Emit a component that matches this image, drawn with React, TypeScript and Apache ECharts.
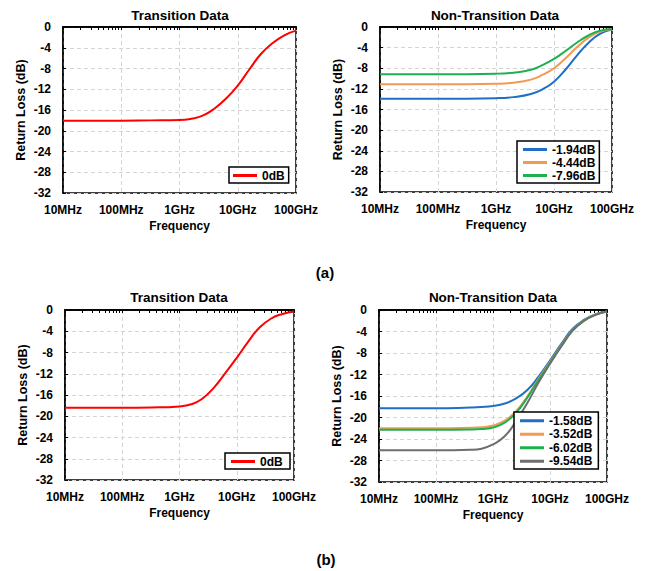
import React, { useEffect, useRef } from "react";
import * as echarts from "echarts";

const FONT = 'Arial, "Liberation Sans", sans-serif';

// x tick labels (decades 1e7..1e11)
const xTickLabels = ["10MHz", "100MHz", "1GHz", "10GHz", "100GHz"];
const yMin = -32;
const yMax = 0;
const yStep = 4;

// (a) Transition data
const freqTL = [1e7, 1e8, 3.2e8, 1e9, 1.6e9, 2.5e9, 4e9, 6.3e9, 1e10, 1.6e10, 2.5e10, 4e10, 6.3e10, 1e11];
const rlTL = [-18.05, -18.05, -18.0, -17.95, -17.7, -17.1, -15.7, -13.8, -11.3, -8.1, -5.2, -3.1, -1.6, -0.7];

// (a) Non-transition data
const freqTR = [1e7, 1e8, 1e9, 2e9, 4e9, 6.3e9, 1e10, 1.6e10, 2.5e10, 4e10, 6.3e10, 1e11];
const rlTR_194 = [-13.9, -13.9, -13.8, -13.6, -13.0, -12.1, -10.6, -8.2, -5.5, -3.0, -1.3, -0.5];
const rlTR_444 = [-11.1, -11.1, -11.0, -10.8, -10.2, -9.3, -8.0, -6.0, -3.9, -2.0, -0.9, -0.45];
const rlTR_796 = [-9.15, -9.15, -9.05, -8.85, -8.3, -7.4, -6.2, -4.6, -3.0, -1.6, -0.7, -0.4];

// (b) Transition data
const freqBL = [1e7, 1e8, 3.2e8, 1e9, 1.6e9, 2.5e9, 4e9, 6.3e9, 1e10, 1.6e10, 2.5e10, 4e10, 6.3e10, 1e11];
const rlBL = [-18.4, -18.4, -18.35, -18.15, -17.75, -16.7, -14.6, -11.9, -9.0, -5.9, -3.3, -1.6, -0.75, -0.3];

// (b) Non-transition data
const freqBR = [1e7, 1e8, 4e8, 6.3e8, 1e9, 1.6e9, 2.5e9, 4e9, 6.3e9, 1e10, 1.6e10, 2.5e10, 4e10, 6.3e10, 1e11];
const rlBR_158 = [-18.3, -18.3, -18.15, -18.05, -17.85, -17.4, -16.5, -14.9, -12.4, -9.4, -6.2, -3.5, -1.8, -0.8, -0.3];
const rlBR_352 = [-22.0, -22.0, -21.9, -21.8, -21.5, -20.6, -18.9, -16.1, -12.8, -9.7, -6.5, -3.7, -1.9, -0.85, -0.3];
const rlBR_602 = [-22.3, -22.3, -22.25, -22.15, -21.85, -20.95, -19.2, -16.3, -13.0, -9.85, -6.6, -3.8, -1.95, -0.9, -0.3];
const rlBR_954 = [-26.1, -26.1, -26.0, -25.8, -25.0, -23.5, -20.8, -17.3, -13.5, -10.0, -6.7, -3.85, -2.0, -0.9, -0.3];

const COLORS = {
  red: "#ff0000",
  blue: "#1f6fc4",
  orange: "#f39a52",
  green: "#1db04f",
  gray: "#6e6e6e",
};

// top-border log tick positions (in log10 units)
const topTicks: number[] = [];
for (let d = 7; d < 11; d++) {
  for (let k = 1; k <= 9; k++) topTicks.push(d + Math.log10(k));
}
topTicks.push(11);

const grids = [
  { left: 63, top: 27, width: 233, height: 166 },
  { left: 380, top: 27, width: 232, height: 165 },
  { left: 65, top: 310, width: 229, height: 170 },
  { left: 379, top: 310, width: 228, height: 172 },
];

const titles = [
  { text: "Transition Data", x: 180, y: 15 },
  { text: "Non-Transition Data", x: 495, y: 15 },
  { text: "Transition Data", x: 179, y: 297 },
  { text: "Non-Transition Data", x: 493, y: 297 },
];

const boldText = (size: number) => ({
  fontFamily: FONT,
  fontWeight: "bold" as const,
  fontSize: size,
  color: "#000",
});

function buildOption() {
  const xAxis: any[] = [];
  const yAxis: any[] = [];
  grids.forEach((_, k) => {
    xAxis.push({
      type: "log",
      logBase: 10,
      gridIndex: k,
      min: 1e7,
      max: 1e11,
      axisLine: { lineStyle: { color: "#000", width: 1.5 } },
      axisTick: { show: false },
      axisLabel: {
        margin: 11,
        ...boldText(12),
        formatter: (v: number) => xTickLabels[Math.round(Math.log10(v)) - 7] ?? "",
      },
      splitLine: { show: true, lineStyle: { color: "#d4d4d4", type: [4, 3], width: 1 } },
      name: "Frequency",
      nameLocation: "middle",
      nameGap: 27,
      nameTextStyle: boldText(12),
    });
    xAxis.push({
      type: "value",
      gridIndex: k,
      position: "top",
      min: 7,
      max: 11,
      axisLine: { show: true, lineStyle: { color: "#000", width: 1.5 } },
      axisLabel: { show: false },
      splitLine: { show: false },
      axisTick: {
        show: true,
        inside: true,
        length: 3,
        customValues: topTicks,
        lineStyle: { color: "#000", width: 1 },
      },
    });
    yAxis.push({
      type: "value",
      gridIndex: k,
      min: yMin,
      max: yMax,
      interval: yStep,
      axisLine: { show: true, lineStyle: { color: "#000", width: 1.5 } },
      axisTick: { show: true, inside: true, length: 3, lineStyle: { color: "#000" } },
      axisLabel: { margin: 12, ...boldText(12) },
      splitLine: { show: true, lineStyle: { color: "#d4d4d4", type: [4, 3], width: 1 } },
      name: "Return Loss (dB)",
      nameLocation: "middle",
      nameGap: 36,
      nameTextStyle: boldText(12.5),
    });
  });

  const mk = (name: string, k: number, freqs: number[], vals: number[], color: string) => ({
    type: "line",
    name,
    xAxisIndex: 2 * k,
    yAxisIndex: k,
    data: freqs.map((f, i) => [f, vals[i]]),
    showSymbol: false,
    symbol: "none",
    smooth: 0.5,
    color,
    itemStyle: { color },
    lineStyle: { color, width: 2 },
    clip: true,
  });

  const series = [
    mk("0dB", 0, freqTL, rlTL, COLORS.red),
    mk("-1.94dB", 1, freqTR, rlTR_194, COLORS.blue),
    mk("-4.44dB", 1, freqTR, rlTR_444, COLORS.orange),
    mk("-7.96dB", 1, freqTR, rlTR_796, COLORS.green),
    mk("0dB ", 2, freqBL, rlBL, COLORS.red),
    mk("-1.58dB", 3, freqBR, rlBR_158, COLORS.blue),
    mk("-3.52dB", 3, freqBR, rlBR_352, COLORS.orange),
    mk("-6.02dB", 3, freqBR, rlBR_602, COLORS.green),
    mk("-9.54dB", 3, freqBR, rlBR_954, COLORS.gray),
  ];

  const legendBase = {
    orient: "vertical",
    borderColor: "#000",
    borderWidth: 1.5,
    backgroundColor: "#fff",
    borderRadius: 0,
    icon: "rect",
    itemHeight: 3,
    itemGap: 0,
    itemWidth: 24,
    selectedMode: false,
    textStyle: { ...boldText(12), lineHeight: 13 },
  };

  const legend = [
    { ...legendBase, left: 229, top: 167, padding: [2, 4, 1, 4], data: ["0dB"] },
    { ...legendBase, left: 517, top: 141, padding: [2, 4, 1, 6], data: ["-1.94dB", "-4.44dB", "-7.96dB"] },
    { ...legendBase, left: 225, top: 453, padding: [2, 4, 1, 6], data: ["0dB "] },
    {
      ...legendBase,
      left: 514,
      top: 412,
      padding: [2, 6, 1, 6],
      textStyle: { ...boldText(12), lineHeight: 13.5 },
      data: ["-1.58dB", "-3.52dB", "-6.02dB", "-9.54dB"],
    },
  ];

  const graphic: any[] = titles.map((t) => ({
    type: "text",
    x: t.x,
    y: t.y,
    style: {
      text: t.text,
      font: `bold 13.5px ${FONT}`,
      fill: "#000",
      textAlign: "center",
      textVerticalAlign: "middle",
    },
  }));
  graphic.push(
    {
      type: "text",
      x: 325,
      y: 272,
      style: { text: "(a)", font: `bold 15px ${FONT}`, fill: "#000", textAlign: "center", textVerticalAlign: "middle" },
    },
    {
      type: "text",
      x: 326,
      y: 559,
      style: { text: "(b)", font: `bold 15px ${FONT}`, fill: "#000", textAlign: "center", textVerticalAlign: "middle" },
    }
  );

  return {
    animation: false,
    backgroundColor: "#fff",
    grid: grids.map((g) => ({
      ...g,
      show: true,
      borderColor: "#000",
      borderWidth: 1.5,
      backgroundColor: "transparent",
    })),
    xAxis,
    yAxis,
    legend,
    series,
    graphic,
  };
}

export default function App() {
  const ref = useRef<HTMLDivElement>(null);
  useEffect(() => {
    if (!ref.current) return;
    const chart = echarts.init(ref.current, undefined, { renderer: "svg" });
    chart.setOption(buildOption() as any);
    return () => chart.dispose();
  }, []);
  return (
    <div
      ref={ref}
      style={{ position: "fixed", left: 0, top: 0, width: 651, height: 571, background: "#fff" }}
    />
  );
}
